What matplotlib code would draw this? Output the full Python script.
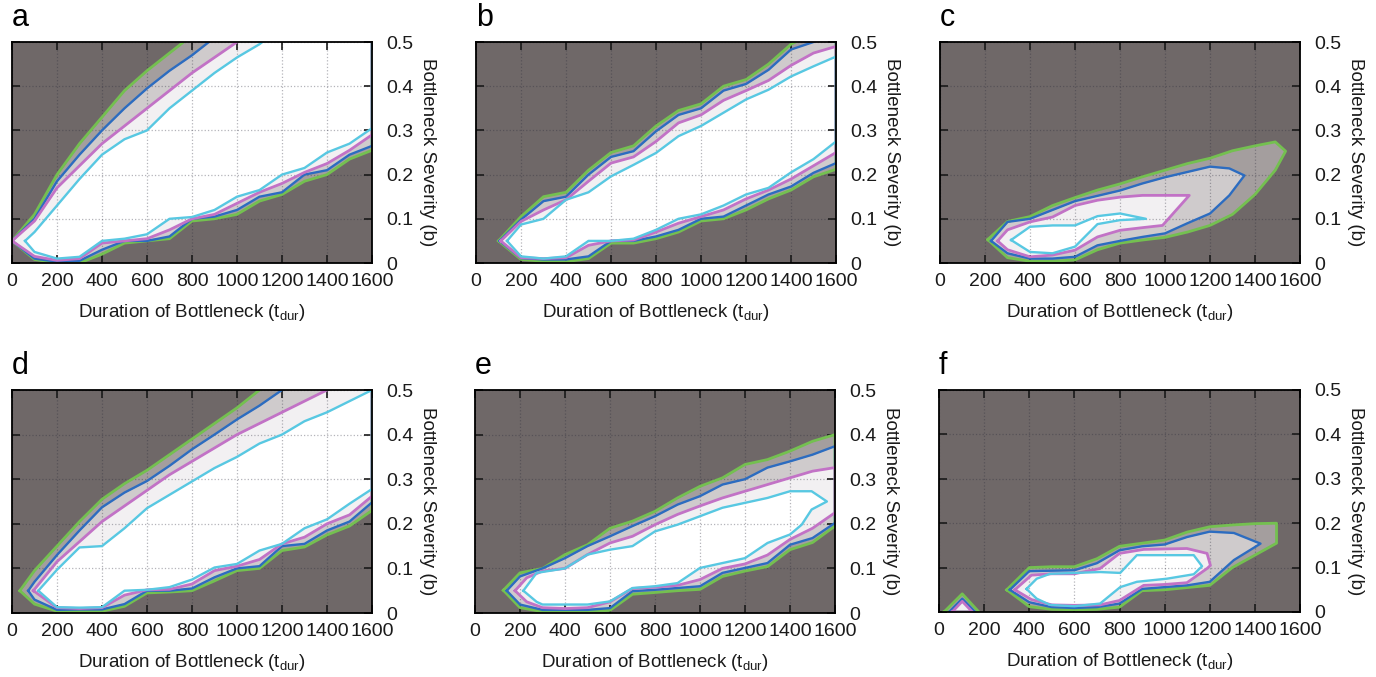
import numpy as np
import matplotlib
matplotlib.use('Agg')
import matplotlib.pyplot as plt

# contour levels: for each panel and level,
# x positions (t_dur) with lower and upper boundary of b

# ---- panel a
a_green_x = [0, 100, 200, 300, 400, 500, 600, 700, 800, 900, 1000, 1100, 1200, 1300, 1400, 1500, 1600]
a_green_lo = [0.05, 0.008, 0.0, 0.0, 0.02, 0.045, 0.05, 0.055, 0.095, 0.1, 0.11, 0.14, 0.155, 0.185, 0.2, 0.235, 0.255]
a_green_hi = [0.05, 0.11, 0.2, 0.27, 0.33, 0.39, 0.435, 0.475, 0.515, 0.56, 0.6, 0.6, 0.6, 0.6, 0.6, 0.6, 0.6]
a_blue_x = [0, 100, 200, 300, 400, 500, 600, 700, 800, 900, 1000, 1100, 1200, 1300, 1400, 1500, 1600]
a_blue_lo = [0.05, 0.01, 0.003, 0.005, 0.03, 0.05, 0.05, 0.06, 0.1, 0.105, 0.12, 0.15, 0.16, 0.2, 0.21, 0.245, 0.265]
a_blue_hi = [0.05, 0.1, 0.185, 0.245, 0.3, 0.35, 0.395, 0.435, 0.47, 0.51, 0.56, 0.6, 0.6, 0.6, 0.6, 0.6, 0.6]
a_mag_x = [0, 100, 200, 300, 400, 500, 600, 700, 800, 900, 1000, 1100, 1200, 1300, 1400, 1500, 1600]
a_mag_lo = [0.05, 0.015, 0.006, 0.01, 0.045, 0.05, 0.055, 0.075, 0.1, 0.11, 0.135, 0.16, 0.18, 0.205, 0.225, 0.255, 0.29]
a_mag_hi = [0.05, 0.095, 0.17, 0.22, 0.27, 0.31, 0.35, 0.39, 0.43, 0.465, 0.5, 0.54, 0.6, 0.6, 0.6, 0.6, 0.6]
a_cyan_x = [58, 100, 200, 300, 400, 500, 600, 700, 800, 900, 1000, 1100, 1200, 1300, 1400, 1500, 1600]
a_cyan_lo = [0.05, 0.025, 0.01, 0.014, 0.05, 0.055, 0.065, 0.1, 0.104, 0.12, 0.15, 0.165, 0.2, 0.215, 0.25, 0.27, 0.305]
a_cyan_hi = [0.05, 0.07, 0.13, 0.19, 0.245, 0.28, 0.3, 0.35, 0.39, 0.43, 0.465, 0.495, 0.535, 0.6, 0.6, 0.6, 0.6]

# ---- panel b
b_green_x = [100, 200, 300, 400, 500, 600, 700, 800, 900, 1000, 1100, 1200, 1300, 1400, 1500, 1600]
b_green_lo = [0.05, 0.008, 0.004, 0.003, 0.01, 0.045, 0.045, 0.055, 0.07, 0.095, 0.1, 0.12, 0.145, 0.165, 0.195, 0.212]
b_green_hi = [0.05, 0.105, 0.15, 0.16, 0.21, 0.25, 0.265, 0.31, 0.345, 0.36, 0.4, 0.415, 0.45, 0.495, 0.52, 0.54]
b_blue_x = [105, 200, 300, 400, 500, 600, 700, 800, 900, 1000, 1100, 1200, 1300, 1400, 1500, 1600]
b_blue_lo = [0.05, 0.011, 0.008, 0.008, 0.015, 0.05, 0.05, 0.06, 0.075, 0.1, 0.105, 0.13, 0.155, 0.173, 0.204, 0.226]
b_blue_hi = [0.05, 0.098, 0.14, 0.15, 0.2, 0.24, 0.253, 0.298, 0.335, 0.35, 0.39, 0.405, 0.437, 0.483, 0.5, 0.52]
b_mag_x = [110, 200, 300, 400, 500, 600, 700, 800, 900, 1000, 1100, 1200, 1300, 1400, 1500, 1600]
b_mag_lo = [0.05, 0.012, 0.01, 0.012, 0.04, 0.05, 0.052, 0.07, 0.09, 0.105, 0.12, 0.145, 0.165, 0.19, 0.22, 0.25]
b_mag_hi = [0.05, 0.094, 0.12, 0.143, 0.185, 0.226, 0.24, 0.275, 0.317, 0.335, 0.368, 0.39, 0.413, 0.447, 0.475, 0.49]
b_cyan_x = [138, 200, 300, 400, 500, 600, 700, 800, 900, 1000, 1100, 1200, 1300, 1400, 1500, 1600]
b_cyan_lo = [0.05, 0.015, 0.01, 0.015, 0.05, 0.05, 0.055, 0.075, 0.1, 0.11, 0.13, 0.155, 0.17, 0.205, 0.235, 0.275]
b_cyan_hi = [0.05, 0.087, 0.1, 0.143, 0.16, 0.196, 0.222, 0.249, 0.287, 0.31, 0.34, 0.37, 0.392, 0.422, 0.445, 0.467]

# ---- panel c
c_green_x = [212, 300, 400, 500, 600, 700, 800, 900, 1000, 1100, 1200, 1300, 1400, 1490, 1536]
c_green_lo = [0.053, 0.012, 0.004, 0.004, 0.007, 0.03, 0.045, 0.052, 0.058, 0.07, 0.085, 0.11, 0.155, 0.21, 0.253]
c_green_hi = [0.053, 0.094, 0.105, 0.13, 0.148, 0.165, 0.179, 0.195, 0.21, 0.225, 0.237, 0.254, 0.265, 0.274, 0.253]
c_blue_x = [227, 300, 400, 500, 600, 700, 800, 900, 1000, 1100, 1200, 1286, 1353]
c_blue_lo = [0.05, 0.022, 0.01, 0.01, 0.014, 0.04, 0.05, 0.059, 0.067, 0.09, 0.112, 0.153, 0.198]
c_blue_hi = [0.05, 0.093, 0.1, 0.12, 0.14, 0.152, 0.164, 0.18, 0.194, 0.206, 0.218, 0.214, 0.198]
c_mag_x = [256, 300, 400, 500, 600, 700, 800, 900, 989, 1108]
c_mag_lo = [0.05, 0.03, 0.014, 0.018, 0.029, 0.059, 0.074, 0.08, 0.085, 0.153]
c_mag_hi = [0.05, 0.075, 0.093, 0.104, 0.13, 0.142, 0.149, 0.153, 0.153, 0.153]
c_cyan_x = [316, 400, 500, 600, 700, 800, 915]
c_cyan_lo = [0.052, 0.025, 0.022, 0.037, 0.088, 0.097, 0.1]
c_cyan_hi = [0.052, 0.082, 0.085, 0.085, 0.106, 0.112, 0.1]

# ---- panel d
d_green_x = [35, 100, 200, 300, 400, 500, 600, 700, 800, 900, 1000, 1100, 1200, 1300, 1400, 1500, 1600]
d_green_lo = [0.05, 0.02, 0.004, 0.003, 0.004, 0.015, 0.045, 0.047, 0.05, 0.072, 0.095, 0.1, 0.14, 0.148, 0.175, 0.195, 0.23]
d_green_hi = [0.05, 0.095, 0.15, 0.205, 0.255, 0.29, 0.32, 0.355, 0.39, 0.425, 0.46, 0.5, 0.53, 0.6, 0.6, 0.6, 0.6]
d_blue_x = [72, 100, 200, 300, 400, 500, 600, 700, 800, 900, 1000, 1100, 1200, 1300, 1400, 1500, 1600]
d_blue_lo = [0.05, 0.03, 0.007, 0.008, 0.008, 0.02, 0.05, 0.05, 0.055, 0.08, 0.1, 0.105, 0.15, 0.155, 0.185, 0.205, 0.248]
d_blue_hi = [0.05, 0.07, 0.13, 0.185, 0.237, 0.27, 0.296, 0.33, 0.367, 0.4, 0.434, 0.465, 0.5, 0.53, 0.6, 0.6, 0.6]
d_mag_x = [95, 200, 300, 400, 500, 600, 700, 800, 900, 1000, 1100, 1200, 1300, 1400, 1500, 1600]
d_mag_lo = [0.05, 0.012, 0.01, 0.012, 0.04, 0.052, 0.053, 0.065, 0.095, 0.105, 0.12, 0.155, 0.17, 0.2, 0.22, 0.262]
d_mag_hi = [0.05, 0.115, 0.16, 0.205, 0.24, 0.275, 0.31, 0.34, 0.37, 0.4, 0.425, 0.45, 0.475, 0.5, 0.52, 0.55]
d_cyan_x = [117, 200, 300, 400, 500, 600, 700, 800, 900, 1000, 1100, 1200, 1300, 1400, 1500, 1600]
d_cyan_lo = [0.05, 0.013, 0.012, 0.013, 0.05, 0.052, 0.058, 0.075, 0.102, 0.11, 0.14, 0.155, 0.19, 0.21, 0.245, 0.278]
d_cyan_hi = [0.05, 0.097, 0.147, 0.15, 0.19, 0.235, 0.265, 0.295, 0.325, 0.35, 0.38, 0.4, 0.43, 0.45, 0.475, 0.5]

# ---- panel e
e_green_x = [126, 200, 300, 400, 500, 600, 700, 800, 900, 1000, 1100, 1200, 1300, 1400, 1500, 1600]
e_green_lo = [0.051, 0.012, 0.003, 0.002, 0.003, 0.006, 0.042, 0.046, 0.05, 0.053, 0.082, 0.094, 0.104, 0.142, 0.158, 0.195]
e_green_hi = [0.051, 0.09, 0.1, 0.131, 0.153, 0.19, 0.206, 0.228, 0.258, 0.284, 0.303, 0.333, 0.344, 0.363, 0.385, 0.4]
e_blue_x = [141, 200, 300, 400, 500, 600, 700, 800, 900, 1000, 1100, 1200, 1300, 1400, 1500, 1600]
e_blue_lo = [0.05, 0.019, 0.007, 0.007, 0.007, 0.011, 0.049, 0.052, 0.056, 0.06, 0.09, 0.101, 0.112, 0.153, 0.168, 0.202]
e_blue_hi = [0.05, 0.082, 0.1, 0.123, 0.15, 0.172, 0.195, 0.217, 0.243, 0.262, 0.288, 0.3, 0.326, 0.34, 0.355, 0.374]
e_mag_x = [178, 230, 300, 400, 500, 600, 700, 800, 900, 1000, 1100, 1200, 1300, 1400, 1500, 1600]
e_mag_lo = [0.05, 0.025, 0.012, 0.01, 0.012, 0.025, 0.055, 0.058, 0.062, 0.075, 0.1, 0.11, 0.13, 0.165, 0.19, 0.225]
e_mag_hi = [0.05, 0.079, 0.094, 0.1, 0.131, 0.157, 0.172, 0.198, 0.221, 0.24, 0.258, 0.273, 0.288, 0.303, 0.318, 0.326]
e_cyan_x = [215, 274, 300, 400, 500, 600, 700, 800, 900, 1000, 1100, 1200, 1300, 1400, 1452, 1496, 1564]
e_cyan_lo = [0.05, 0.025, 0.019, 0.019, 0.019, 0.026, 0.056, 0.06, 0.067, 0.101, 0.112, 0.123, 0.157, 0.176, 0.198, 0.232, 0.25]
e_cyan_hi = [0.05, 0.09, 0.092, 0.1, 0.131, 0.142, 0.15, 0.183, 0.198, 0.217, 0.236, 0.247, 0.258, 0.273, 0.273, 0.273, 0.25]

# ---- panel f (small island near the origin plus main island)
f_green0_x = [22, 103, 177]
f_green0_lo = [0, 0, 0]
f_green0_hi = [0, 0.041, 0]
f_blue0_x = [45, 103, 160]
f_blue0_lo = [0, 0, 0]
f_blue0_hi = [0, 0.03, 0]
f_mag0_x = [58, 103, 148]
f_mag0_lo = [0, 0, 0]
f_mag0_hi = [0, 0.024, 0]
f_green_x = [300, 400, 500, 600, 700, 800, 900, 1000, 1100, 1200, 1300, 1400, 1496]
f_green_lo = [0.05, 0.012, 0.006, 0.005, 0.006, 0.011, 0.048, 0.05, 0.055, 0.06, 0.1, 0.128, 0.155]
f_green_hi = [0.05, 0.1, 0.102, 0.102, 0.12, 0.148, 0.155, 0.162, 0.18, 0.192, 0.196, 0.199, 0.2]
f_blue_x = [314, 400, 500, 600, 700, 800, 900, 1000, 1100, 1200, 1307, 1425]
f_blue_lo = [0.05, 0.022, 0.011, 0.009, 0.011, 0.019, 0.052, 0.056, 0.06, 0.068, 0.117, 0.154]
f_blue_hi = [0.05, 0.092, 0.093, 0.094, 0.11, 0.139, 0.148, 0.152, 0.169, 0.181, 0.178, 0.154]
f_mag_x = [336, 410, 500, 600, 714, 800, 907, 1000, 1099, 1188, 1203]
f_mag_lo = [0.05, 0.028, 0.016, 0.015, 0.016, 0.026, 0.06, 0.062, 0.066, 0.098, 0.105]
f_mag_hi = [0.05, 0.083, 0.086, 0.086, 0.098, 0.132, 0.141, 0.142, 0.143, 0.132, 0.105]
f_cyan_x = [388, 433, 492, 600, 714, 803, 877, 1010, 1129, 1166]
f_cyan_lo = [0.052, 0.03, 0.016, 0.013, 0.019, 0.056, 0.068, 0.075, 0.085, 0.103]
f_cyan_hi = [0.052, 0.075, 0.086, 0.088, 0.09, 0.088, 0.128, 0.128, 0.128, 0.103]

x_ticks = [0, 200, 400, 600, 800, 1000, 1200, 1400, 1600]
y_ticks = [0, 0.1, 0.2, 0.3, 0.4, 0.5]
y_ticklabels = ['0', '0.1', '0.2', '0.3', '0.4', '0.5']
panel_letters = ['a', 'b', 'c', 'd', 'e', 'f']

# colours per level: (fill inside the level, line colour)
BG = '#6f6868'
STYLE = {
    'green': ('#a49e9e', '#74c050'),
    'blue': ('#cfcbcc', '#2c6cc0'),
    'mag': ('#f2f0f2', '#c272c6'),
    'cyan': ('#ffffff', '#58c8e2'),
}

panels = {
    'a': [('green', a_green_x, a_green_lo, a_green_hi), ('blue', a_blue_x, a_blue_lo, a_blue_hi),
          ('mag', a_mag_x, a_mag_lo, a_mag_hi), ('cyan', a_cyan_x, a_cyan_lo, a_cyan_hi)],
    'b': [('green', b_green_x, b_green_lo, b_green_hi), ('blue', b_blue_x, b_blue_lo, b_blue_hi),
          ('mag', b_mag_x, b_mag_lo, b_mag_hi), ('cyan', b_cyan_x, b_cyan_lo, b_cyan_hi)],
    'c': [('green', c_green_x, c_green_lo, c_green_hi), ('blue', c_blue_x, c_blue_lo, c_blue_hi),
          ('mag', c_mag_x, c_mag_lo, c_mag_hi), ('cyan', c_cyan_x, c_cyan_lo, c_cyan_hi)],
    'd': [('green', d_green_x, d_green_lo, d_green_hi), ('blue', d_blue_x, d_blue_lo, d_blue_hi),
          ('mag', d_mag_x, d_mag_lo, d_mag_hi), ('cyan', d_cyan_x, d_cyan_lo, d_cyan_hi)],
    'e': [('green', e_green_x, e_green_lo, e_green_hi), ('blue', e_blue_x, e_blue_lo, e_blue_hi),
          ('mag', e_mag_x, e_mag_lo, e_mag_hi), ('cyan', e_cyan_x, e_cyan_lo, e_cyan_hi)],
    'f': [('green', f_green0_x, f_green0_lo, f_green0_hi), ('green', f_green_x, f_green_lo, f_green_hi),
          ('blue', f_blue0_x, f_blue0_lo, f_blue0_hi), ('blue', f_blue_x, f_blue_lo, f_blue_hi),
          ('mag', f_mag0_x, f_mag0_lo, f_mag0_hi), ('mag', f_mag_x, f_mag_lo, f_mag_hi),
          ('cyan', f_cyan_x, f_cyan_lo, f_cyan_hi)],
}

plt.rcParams['font.family'] = ['Liberation Sans', 'DejaVu Sans']
plt.rcParams['mathtext.fontset'] = 'custom'
plt.rcParams['mathtext.rm'] = 'Liberation Sans'
plt.rcParams['mathtext.it'] = 'Liberation Sans'

W, H = 1376, 677
fig = plt.figure(figsize=(W / 100, H / 100), dpi=100)

# axes boxes in pixels: left, right, top, bottom
boxes = {
    'a': (12, 372, 42, 263), 'b': (476, 836, 42, 263), 'c': (940, 1300, 42, 263),
    'd': (12, 372, 390, 613), 'e': (475, 835, 390, 613), 'f': (939, 1300, 390, 612),
}

for letter in panel_letters:
    l, r, t, b = boxes[letter]
    ax = fig.add_axes([l / W, 1 - b / H, (r - l) / W, (b - t) / H])
    ax.set_facecolor(BG)
    levels = panels[letter]
    for i, (name, x, lo, hi) in enumerate(levels):
        ax.fill_between(x, lo, hi, color=STYLE[name][0], lw=0, zorder=1 + i * 0.01)
    for name, x, lo, hi in levels:
        x = np.asarray(x, float)
        px = np.r_[x, x[::-1]]
        py = np.r_[hi, lo[::-1]]
        lw = 2.0 if name in ('green', 'mag') else 1.7
        ax.plot(px, py, color=STYLE[name][1], lw=lw, zorder=3, solid_joinstyle='round')

    ax.set_xlim(0, 1600)
    ax.set_ylim(0, 0.5)
    ax.set_xticks(x_ticks)
    ax.set_yticks(y_ticks)
    ax.set_yticklabels(y_ticklabels)
    ax.set_axisbelow(False)
    ax.grid(True, ls=':', color='#2a2a3a', alpha=0.35, lw=0.9)
    ax.tick_params(direction='in', top=True, bottom=True, left=True, right=True,
                   labelleft=False, labelright=True, length=6, width=1.2,
                   labelsize=14, colors='#1a1a1a')
    ax.tick_params(axis='x', pad=7.5)
    ax.tick_params(axis='y', pad=10.5)
    for sp in ax.spines.values():
        sp.set_linewidth(1.3)
        sp.set_zorder(5)
    ax.yaxis.set_label_position('right')
    ax.set_ylabel('Bottleneck Severity (b)', rotation=-90, fontsize=13.5, labelpad=16, color='#1a1a1a')
    ax.set_xlabel(r'Duration of Bottleneck ($\mathregular{t_{dur}}$)', fontsize=13.5, labelpad=8, color='#1a1a1a')
    ax.text(0.0, 1.04, letter, transform=ax.transAxes, fontsize=22, ha='left', va='bottom')

fig.savefig('out.png', dpi=100)
